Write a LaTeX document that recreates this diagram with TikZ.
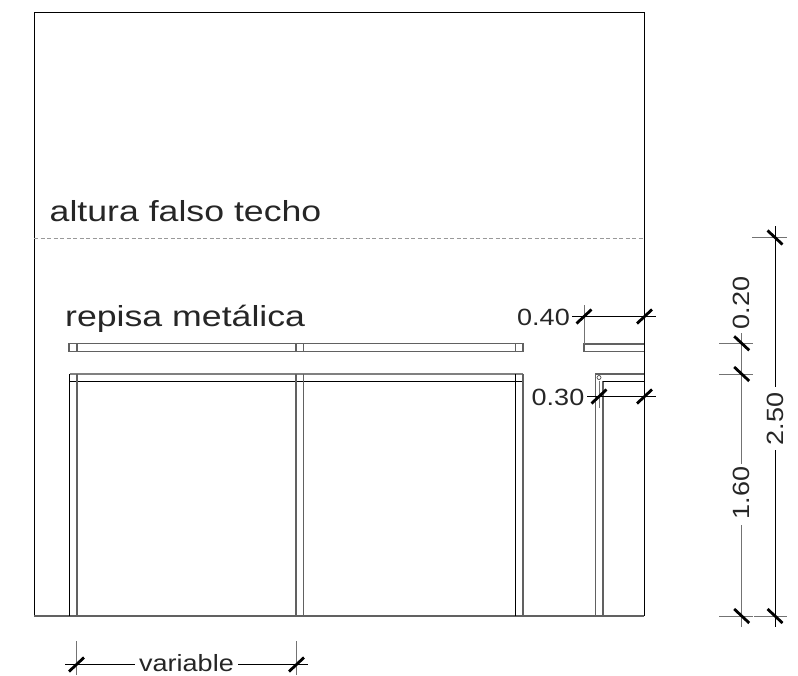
\documentclass[tikz,border=0pt]{standalone}
\usepackage{fontspec}
\setmainfont[FakeStretch=1.15]{Liberation Sans}
\newfontfamily\widefont[FakeStretch=1.23]{Liberation Sans}
\tikzset{
  blk/.style={draw=black,line width=0.8pt},
  gry/.style={draw=black!62,line width=1.1pt},
  lgry/.style={draw=black!50,line width=1.5pt},
  dimline/.style={draw=black,line width=0.7pt},
  extline/.style={draw=black!55,line width=1pt},
  tick/.style={draw=black,line width=2.8pt},
  falso/.style={draw=black!40,line width=0.9pt,dash pattern=on 4pt off 2.5pt},
  big/.style={font=\widefont\fontsize{29}{34}\selectfont,text=black!85,inner sep=0pt,anchor=base west},
  dimtxt/.style={font=\fontsize{23.5}{28}\selectfont,text=black!85,inner sep=0pt},
}
\newcommand{\slashtick}[1]{\draw[tick] ([shift={(-7.5,7)}]#1) -- ([shift={(7.5,-7)}]#1);}
\newcommand{\backtick}[1]{\draw[tick] ([shift={(-7.5,-7)}]#1) -- ([shift={(7.5,7)}]#1);}
\begin{document}
\begin{tikzpicture}[x=1pt,y=-1pt]
\useasboundingbox (0,0) rectangle (798,675);
% wall
\draw[blk] (34,616) -- (34,12) -- (644,12) -- (644,616);
\draw[gry] (34,616) -- (644,616);
\draw[falso] (34,238) -- (644,238);
% shelf
\draw[gry] (69,343.5) rectangle (523,351.5);
\draw[gry] (77,343.5) -- (77,351.5);
\draw[gry] (296,343.5) -- (296,351.5);
\draw[gry] (303.5,343.5) -- (303.5,351.5);
\draw[gry] (515.5,343.5) -- (515.5,351.5);
\draw[gry] (644,344) -- (584,344) -- (584,351.5) -- (644,351.5);
% frame
\draw[lgry] (69.5,374) -- (523,374);
\draw[blk] (69.5,381) -- (523,381);
\draw[blk] (69.5,374) -- (69.5,616);
\draw[gry] (77,374) -- (77,616);
\draw[gry] (296,374) -- (296,616);
\draw[gry] (303.5,374) -- (303.5,616);
\draw[blk] (515.5,374) -- (515.5,616);
\draw[gry] (523,374) -- (523,616);
% side frame
\draw[gry] (595.5,616) -- (595.5,374) -- (644,374);
\draw[gry] (603,616) -- (603,381);
\draw[blk] (603,381) -- (644,381);
\draw[extline] (599,381) -- (599,408);
\draw[black!70,line width=0.7pt] (599,377.5) circle (2);
% texts
\node[big] (falsotxt) at (49.5,221) {altura falso techo};
\node[big] (repisatxt) at (65,326.5) {repisa metálica};
% dim 0.40
\node[dimtxt,anchor=east] (t40) at (570,317) {0.40};
\coordinate (a1) at (584,316.5);
\coordinate (a2) at (644.5,316.5);
\draw[dimline] (572,316.5) -- (656,316.5);
\draw[extline] (584,305) -- (584,344);
\slashtick{a1}\slashtick{a2}
% dim 0.30
\node[dimtxt,anchor=east] (t30) at (584.5,397) {0.30};
\coordinate (b1) at (599,396.5);
\coordinate (b2) at (644.5,396.5);
\draw[dimline] (587,396.5) -- (656,396.5);
\slashtick{b1}\slashtick{b2}
% dim variable
\coordinate (v1) at (76.5,664.5);
\coordinate (v2) at (296.5,664.5);
\node[dimtxt] (tv) at (186.5,663.5) {variable};
\draw[dimline] (65,664.5) -- (135,664.5);
\draw[dimline] (238,664.5) -- (308,664.5);
\draw[extline] (76.5,641) -- (76.5,675);
\draw[extline] (296.5,641) -- (296.5,675);
\slashtick{v1}\slashtick{v2}
% right dims
\coordinate (c1) at (741.7,343.3);
\coordinate (c2) at (741.7,374);
\coordinate (c3) at (741.7,616);
\coordinate (d1) at (775,237.5);
\coordinate (d2) at (775,616);
\node[dimtxt,rotate=90] (t20) at (741.5,303) {0.20};
\node[dimtxt,rotate=90] (t160) at (741.5,493) {1.60};
\node[dimtxt,rotate=90] (t250) at (775,419) {2.50};
\draw[extline] (741.7,333) -- (741.7,464);
\draw[extline] (741.7,525) -- (741.7,627);
\draw[dimline] (775,226) -- (775,387);
\draw[dimline] (775,450) -- (775,627);
\draw[extline] (752,237.5) -- (787,237.5);
\draw[extline] (719,343.3) -- (753,343.3);
\draw[extline] (719,374) -- (753,374);
\draw[extline] (719,616) -- (753,616);
\draw[extline] (754,616) -- (787,616);
\backtick{c1}\backtick{c2}\backtick{c3}\backtick{d1}\backtick{d2}
\end{tikzpicture}
\end{document}
